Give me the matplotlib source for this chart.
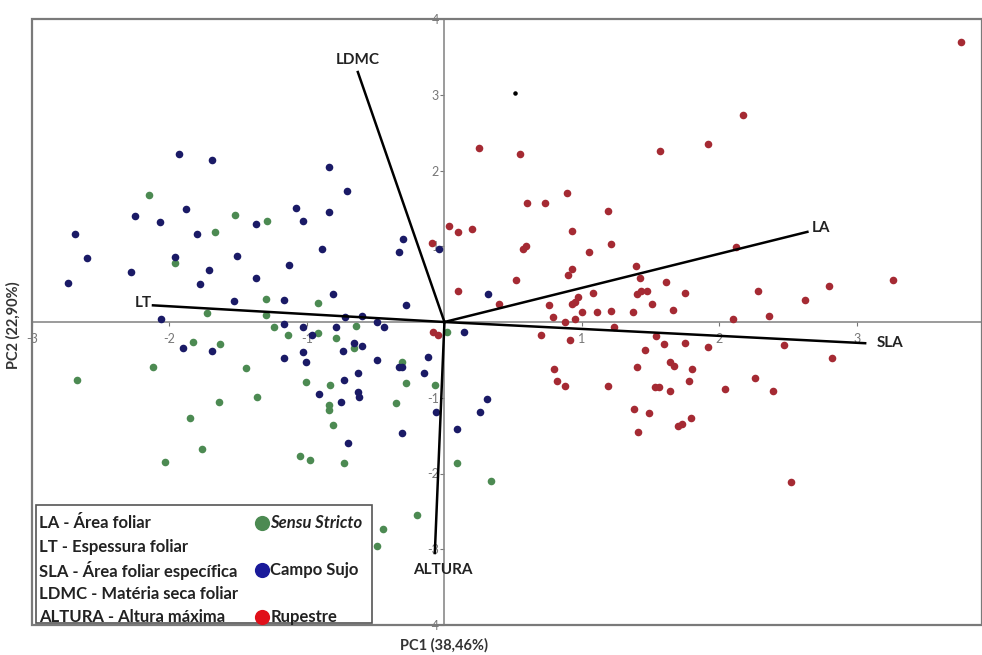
import matplotlib
matplotlib.use("Agg")
import matplotlib.pyplot as plt
from matplotlib.patches import Rectangle

plt.rcParams['font.family'] = ['Lato', 'DejaVu Sans']
plt.rcParams['axes.unicode_minus'] = False

# PCA scores (PC1, PC2)
rupestre_x = [3.76, 2.17, 1.92, 1.57, 0.55, 0.25, 0.89, 0.60, 0.73, 1.19,
              0.93, 0.59, 0.57, 1.21, 2.12, 1.05, 1.39, 0.93, 0.90, 0.52,
              1.42, 1.61, 3.26, 2.80, 2.28, 1.75, 1.08, 1.40, 1.43, 1.47,
              0.97, 0.95, 0.93, 2.62, 0.40, 0.76, 1.51, 1.66, 0.79, 1.00,
              1.11, 1.21, 1.37, 0.95, 0.88, 2.10, 2.36, 1.23, 0.70, 0.91,
              1.54, 1.60, 1.75, 1.92, 1.46, 2.47, 2.82, 1.64, 1.67, 1.40,
              1.80, 0.80, 0.82, 0.88, 1.19, 1.78, 2.26, 1.53, 1.56, 1.64,
              2.04, 2.39, 1.38, 1.49, 1.79, 1.70, 1.73, 1.41, 2.52, 0.03,
              0.10, 0.20, -0.09, 0.10, -0.08, -0.05]
rupestre_y = [3.70, 2.73, 2.35, 2.26, 2.22, 2.30, 1.70, 1.57, 1.57, 1.47,
              1.20, 1.00, 0.96, 1.03, 0.99, 0.92, 0.74, 0.70, 0.62, 0.55,
              0.58, 0.53, 0.55, 0.48, 0.41, 0.38, 0.38, 0.37, 0.41, 0.41,
              0.33, 0.26, 0.24, 0.29, 0.24, 0.22, 0.24, 0.16, 0.07, 0.13,
              0.13, 0.15, 0.13, 0.04, 0.00, 0.04, 0.08, -0.07, -0.17, -0.24,
              -0.18, -0.29, -0.28, -0.33, -0.37, -0.30, -0.48, -0.53, -0.58, -0.59,
              -0.62, -0.62, -0.78, -0.84, -0.84, -0.78, -0.74, -0.86, -0.86, -0.91,
              -0.88, -0.91, -1.15, -1.20, -1.27, -1.37, -1.35, -1.45, -2.11, 1.27,
              1.19, 1.23, 1.04, 0.41, -0.13, -0.17]

campo_x = [-1.93, -1.69, -0.84, -0.71, -1.88, -2.25, -2.07, -1.08, -1.03, -0.84,
           -1.37, -2.69, -1.80, -0.30, -0.33, -0.04, -0.89, -2.60, -1.96, -1.51,
           -1.13, -2.28, -1.71, -1.37, -2.74, -1.78, -0.81, -1.53, -1.17, -0.28,
           0.32, -0.72, -0.60, -2.06, -0.49, -1.17, -1.03, -0.79, -0.44, -1.90,
           -1.69, -0.96, -1.03, -0.74, -0.66, -0.60, -1.17, -1.01, -0.49, -0.33,
           -0.31, -0.12, 0.14, -0.63, -0.73, -0.15, -0.63, -0.62, -0.91, -0.75,
           -0.06, -0.31, -0.70, 0.31, 0.26, 0.09]
campo_y = [2.22, 2.14, 2.05, 1.73, 1.49, 1.40, 1.32, 1.50, 1.33, 1.45,
           1.29, 1.16, 1.16, 1.10, 0.92, 0.96, 0.96, 0.84, 0.86, 0.87,
           0.75, 0.66, 0.69, 0.58, 0.51, 0.50, 0.37, 0.28, 0.29, 0.22,
           0.37, 0.07, 0.08, 0.04, 0.00, -0.03, -0.07, -0.07, -0.07, -0.34,
           -0.38, -0.17, -0.40, -0.38, -0.28, -0.32, -0.48, -0.53, -0.50, -0.59,
           -0.59, -0.46, -0.13, -0.67, -0.77, -0.67, -0.92, -0.99, -0.95, -1.06,
           -1.19, -1.47, -1.60, -1.02, -1.19, -1.41]

sensu_x = [-2.15, -1.52, -1.29, -1.67, -1.96, -1.30, -0.92, -1.73, -1.30, -1.24,
           -1.14, -0.92, -0.79, -0.64, -1.83, -1.63, -0.66, -0.31, -2.12, -1.44,
           -2.67, -1.01, -0.83, -0.28, -0.07, -1.36, -1.64, -0.35, -0.84, -0.84,
           -1.85, -0.81, -1.76, -1.05, -0.98, -0.73, -2.03, 0.09, 0.34, -0.20,
           -0.45, -0.49, 0.02]
sensu_y = [1.68, 1.41, 1.33, 1.19, 0.78, 0.30, 0.25, 0.12, 0.09, -0.07,
           -0.17, -0.15, -0.21, -0.05, -0.26, -0.29, -0.34, -0.53, -0.59, -0.61,
           -0.77, -0.79, -0.83, -0.81, -0.83, -0.99, -1.06, -1.07, -1.10, -1.16,
           -1.27, -1.36, -1.68, -1.77, -1.82, -1.86, -1.85, -1.86, -2.10, -2.55,
           -2.73, -2.96, -0.13]

# loadings (arrow tips)
var_names = ['LDMC', 'LA', 'SLA', 'LT', 'ALTURA']
load_x = [-0.63, 2.64, 3.06, -2.12, -0.07]
load_y = [3.30, 1.19, -0.28, 0.22, -3.05]

legend_lines = ['LA - Área foliar', 'LT - Espessura foliar',
                'SLA - Área foliar específica', 'LDMC - Matéria seca foliar',
                'ALTURA - Altura máxima']
group_names = ['Sensu Stricto', 'Campo Sujo', 'Rupestre']

fig = plt.figure(figsize=(9.82, 6.55), dpi=100)
ax = fig.add_axes([32 / 982, 1 - 625 / 655, 950 / 982, 606 / 655])
ax.set_xlim(-3, 3.91)
ax.set_ylim(-4, 4)

col_green = '#4c8a52'
col_blue = '#1a1a66'
col_red = '#a52a33'

ax.scatter(sensu_x, sensu_y, s=30, color=col_green, zorder=3, linewidths=0)
ax.scatter(campo_x, campo_y, s=30, color=col_blue, zorder=3, linewidths=0)
ax.scatter(rupestre_x, rupestre_y, s=30, color=col_red, zorder=3, linewidths=0)
ax.scatter([0.51], [3.02], s=5, color='black', zorder=3)

offsets = {'LDMC': (0, 9, 'center', 'center'),
           'LA': (3, 3, 'left', 'center'),
           'SLA': (8, 0, 'left', 'center'),
           'LT': (-1, 2, 'right', 'center'),
           'ALTURA': (6, -12, 'center', 'center')}
for name, lx, ly in zip(var_names, load_x, load_y):
    ax.plot([0, lx], [0, ly], color='black', lw=1.8, zorder=4)
    dx, dy, ha, va = offsets[name]
    ax.annotate(name, (lx, ly), xytext=(dx, dy), textcoords='offset points',
                ha=ha, va=va, fontsize=11, fontweight='bold', color='#222222')

# axes through origin, frame drawn as a box
ax.spines['left'].set_position(('data', 0))
ax.spines['bottom'].set_position(('data', 0))
ax.spines['top'].set_visible(False)
ax.spines['right'].set_visible(False)
for sp in ['left', 'bottom']:
    ax.spines[sp].set_color('#8a8a8a')
    ax.spines[sp].set_linewidth(1.2)
ax.add_patch(Rectangle((0, 0), 1, 1, transform=ax.transAxes, fill=False,
                       edgecolor='#7a7a7a', lw=1.6, clip_on=False, zorder=5))

ax.set_xticks([-3, -2, -1, 1, 2, 3])
ax.set_yticks([-4, -3, -2, -1, 1, 2, 3, 4])
ax.tick_params(axis='both', labelsize=9, labelcolor='#777777', color='#777777',
               length=3, width=0.8)
ax.tick_params(axis='x', pad=5)
ax.tick_params(axis='y', pad=1)

fig.text(444 / 982, 1 - 645 / 655, 'PC1 (38,46%)', ha='center', va='center',
         fontsize=10.5, fontweight='bold', color='#333333')
fig.text(13 / 982, 1 - 325 / 655, 'PC2 (22,90%)', ha='center', va='center',
         rotation=90, fontsize=10.5, fontweight='bold', color='#333333')

# legend box
ax.add_patch(Rectangle((0.004, 0.003), 0.354, 0.195, transform=ax.transAxes,
                       facecolor='white', edgecolor='#555555', lw=1.2, zorder=6))
rows = [0.168, 0.129, 0.090, 0.051, 0.013]
for txt, ry in zip(legend_lines, rows):
    ax.text(0.007, ry, txt, transform=ax.transAxes, fontsize=12,
            fontweight='bold', color='#222222', va='center', ha='left', zorder=7)
marker_cols = [col_green, '#1a1a9a', '#e0101a']
marker_rows = [rows[0], rows[2], rows[4]]
for name, c, ry in zip(group_names, marker_cols, marker_rows):
    ax.scatter([0.242], [ry], s=120, color=c, transform=ax.transAxes,
               zorder=7, clip_on=False, linewidths=0)
    ax.text(0.251, ry, name, transform=ax.transAxes, fontsize=12,
            fontweight='bold', color='#222222', va='center', ha='left', zorder=7,
            style='italic' if name == 'Sensu Stricto' else 'normal')

fig.savefig('out.png', dpi=100, facecolor='white')
